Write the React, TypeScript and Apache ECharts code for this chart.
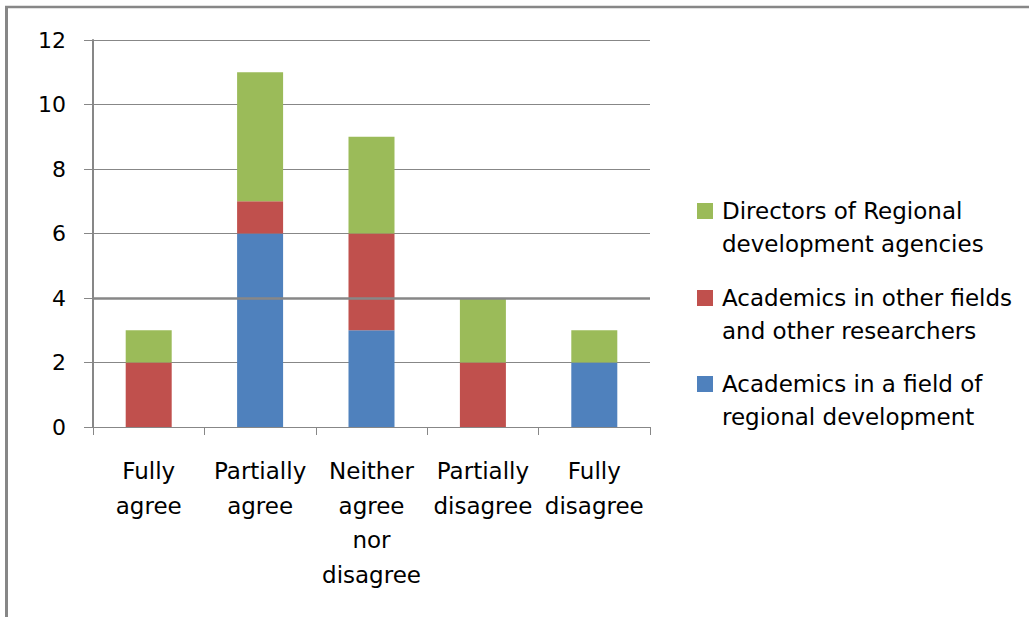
import React, { useEffect, useRef } from "react";
import * as echarts from "echarts";

const categories = [
  "Fully\nagree",
  "Partially\nagree",
  "Neither\nagree\nnor\ndisagree",
  "Partially\ndisagree",
  "Fully\ndisagree",
];
const academicsRegional = [0, 6, 3, 0, 2];
const academicsOther = [2, 1, 3, 2, 0];
const directors = [1, 4, 3, 2, 1];
const yTicks = [0, 2, 4, 6, 8, 10, 12];

const seriesNames = [
  "Academics in a field of\nregional development",
  "Academics in other fields\nand other researchers",
  "Directors of Regional\ndevelopment agencies",
];
const colors = ["#4F81BD", "#C0504D", "#9BBB59"];

const FONT = "DejaVu Sans";
const GRAY = "#878787";

export default function App() {
  const ref = useRef<HTMLDivElement>(null);
  useEffect(() => {
    if (!ref.current) return;
    const chart = echarts.init(ref.current, undefined, { renderer: "svg" });
    const values = [academicsRegional, academicsOther, directors];
    const legendOrder = [2, 1, 0];
    const legendTops = [211, 298, 384];
    const legendGraphics: any[] = [];
    legendOrder.forEach((si, i) => {
      legendGraphics.push({
        type: "rect",
        shape: { x: 697, y: legendTops[i] - 8, width: 16, height: 16 },
        style: { fill: colors[si] },
        silent: true,
      });
      legendGraphics.push({
        type: "text",
        x: 722,
        y: legendTops[i] - 16.5,
        style: {
          text: seriesNames[si],
          font: `23px "${FONT}"`,
          fill: "#000",
          lineHeight: 33,
          verticalAlign: "top",
        },
        silent: true,
      });
    });
    chart.setOption({
      animation: false,
      backgroundColor: "#fff",
      grid: { left: 93, top: 40, right: 379, bottom: 190, containLabel: false },
      xAxis: {
        type: "category",
        data: categories,
        axisLine: { show: true, lineStyle: { color: GRAY, width: 1 } },
        axisTick: { show: true, length: 8, alignWithLabel: false, lineStyle: { color: GRAY } },
        axisLabel: {
          interval: 0,
          margin: 27,
          fontFamily: FONT,
          fontSize: 23,
          lineHeight: 34.5,
          color: "#000",
        },
        splitLine: { show: false },
      },
      yAxis: {
        type: "value",
        min: yTicks[0],
        max: yTicks[yTicks.length - 1],
        interval: 2,
        axisLine: { show: true, lineStyle: { color: GRAY, width: 2 } },
        axisTick: { show: true, length: 9, lineStyle: { color: GRAY } },
        axisLabel: { margin: 27, fontFamily: FONT, fontSize: 22, color: "#000" },
        splitLine: { show: true, lineStyle: { color: GRAY, width: 1 } },
      },
      series: values.map((v, i) => ({
        type: "bar",
        name: seriesNames[i],
        stack: "total",
        data: v,
        barWidth: 46,
        itemStyle: { color: colors[i] },
        markLine:
          i === 0
            ? {
                silent: true,
                symbol: "none",
                label: { show: false },
                lineStyle: { color: GRAY, width: 2.5, type: "solid" },
                data: [{ yAxis: 4 }],
              }
            : undefined,
      })),
      graphic: [
        {
          type: "line",
          shape: { x1: 5, y1: 7, x2: 1029, y2: 7 },
          style: { stroke: GRAY, lineWidth: 2.5 },
          silent: true,
        },
        {
          type: "line",
          shape: { x1: 6.5, y1: 6, x2: 6.5, y2: 617 },
          style: { stroke: GRAY, lineWidth: 3 },
          silent: true,
        },
        ...legendGraphics,
      ],
    });
    return () => chart.dispose();
  }, []);
  return (
    <div
      ref={ref}
      style={{ position: "absolute", left: 0, top: 0, width: 1029, height: 617 }}
    />
  );
}
